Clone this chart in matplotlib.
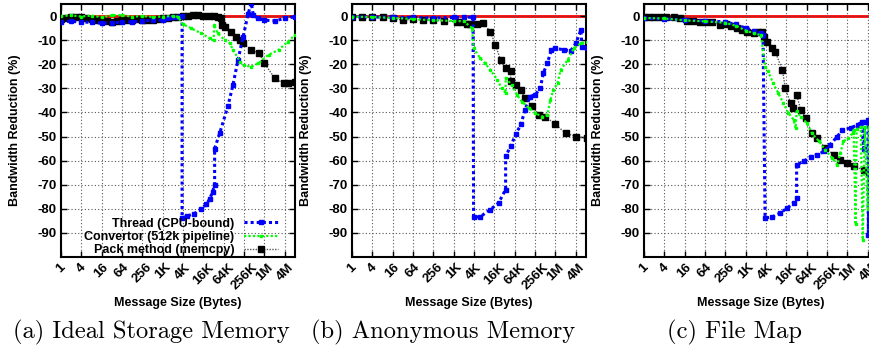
import numpy as np
import matplotlib.pyplot as plt
import matplotlib.transforms as mtransforms

# message sizes are given as log2(bytes); values are bandwidth reduction in %
tick_exp = [0, 2, 4, 6, 8, 10, 12, 14, 16, 18, 20, 22]
tick_labels = ["1", "4", "16", "64", "256", "1K", "4K", "16K", "64K", "256K", "1M", "4M"]
y_ticks = [0, -10, -20, -30, -40, -50, -60, -70, -80, -90]

series_names = ["Thread (CPU-bound)", "Convertor (512k pipeline)", "Pack method (memcpy)"]
captions = ["(a) Ideal Storage Memory", "(b) Anonymous Memory", "(c) File Map"]

# (a) Ideal Storage Memory
thread_a_x = [0, 1, 2, 3, 4, 5, 6, 7, 8, 9, 10, 10.5, 11, 11.5, 11.9, 11.9, 12.4, 13.1, 13.8, 14.3,
              14.6, 14.9, 15.1, 15.1, 15.6, 16.4, 16.9, 17.4, 17.9, 18.4, 18.7, 18.9, 19.4, 20, 21, 22, 23]
thread_a_y = [-2.3, -2.2, -2.5, -2.6, -3.0, -2.8, -2.5, -2.4, -2.0, -1.8, -1.7, -1.0, -0.5, -0.2, 0, -83.8,
              -83, -82, -80, -78, -76, -73, -70, -55, -48.6, -37.5, -28.6, -18.2, -8.6, 1, 5.5, 0.4, -1,
              -1.7, -2, -1, -0.3]
conv_a_x = [0, 1, 2, 3, 4, 5, 6, 7, 8, 9, 10, 11, 11.5, 11.95, 12.8, 13.8, 14.6, 15.0, 15.05, 15.4, 16.1,
            16.6, 16.9, 17.6, 18.0, 18.7, 19.4, 20.4, 21.4, 22.3, 23]
conv_a_y = [0, 0.3, -0.2, 0.2, -0.5, 0.3, 0.4, -0.3, 0, -0.4, -0.2, 0, -0.3, -3.3, -5.1, -7.2, -9.2, -10,
            -3.7, -7.2, -10, -11.3, -14, -18.9, -20.5, -21, -19.6, -16.1, -14, -10.6, -7.9]
pack_a_x = [0, 0.5, 1, 1.5, 2, 2.5, 3, 3.5, 4, 4.5, 5, 5.5, 6, 6.5, 7, 7.5, 8, 8.5, 9, 9.5, 10, 10.5,
            11, 11.5, 12, 12.5, 13, 13.5, 14, 14.5, 15, 15.4, 15.7, 15.8, 16.1, 16.7, 17.2, 17.6, 17.9,
            18.7, 19.5, 20.0, 21.0, 21.9, 22.3, 23]
pack_a_y = [-1.4, -1.0, -0.6, -0.3, -0.5, -0.8, -1.2, -1.6, -1.8, -2.0, -2.3, -2.0, -1.8, -1.6, -1.5,
            -1.4, -1.6, -1.8, -1.5, -1.2, -1.0, -0.8, -0.5, -0.3, 0, 0.2, 0.4, 0.3, 0.2, 0, 0, -0.2, -1,
            -3.7, -4.4, -6.5, -8.6, -10, -11.3, -14, -15.5, -19.6, -25.8, -27.9, -27.9, -27.2]

# (b) Anonymous Memory
thread_b_x = [0, 2, 4, 6, 8, 10, 11, 11.9, 11.95, 12.6, 13.6, 14.4, 15.1, 15.1, 15.6, 16.1, 16.6, 17.0,
              17.5, 18.0, 18.5, 18.8, 19.2, 19.6, 20.0, 20.8, 21.5, 22.0, 22.5, 22.6, 23.1]
thread_b_y = [-0.3, -0.4, -0.5, -0.6, -0.8, -0.6, -0.5, -0.5, -83.5, -83.3, -80.3, -77.6, -72, -58.2,
              -54, -49, -45, -39, -33.4, -32.7, -30, -23.7, -19.6, -14, -13.4, -14, -14.4, -11.3, -5.8,
              -12.7, -13.4]
conv_b_x = [0, 2, 4, 6, 8, 10, 11, 11.8, 11.95, 12.6, 13.1, 13.6, 14.3, 14.7, 15.1, 15.1, 15.7, 16.2,
            16.7, 17.4, 18.0, 18.7, 19.2, 19.5, 19.8, 20.2, 20.5, 21.2, 21.8, 22.5, 23.1]
conv_b_y = [-0.3, -0.4, -0.8, -1.2, -1.8, -2.0, -2.2, -5, -13.4, -17.5, -19.6, -22.4, -26.5, -30, -32,
            -25.7, -28.6, -32.7, -35.5, -38.2, -40.3, -41.7, -41, -34.8, -30.6, -27.9, -22.4, -18.2,
            -13.4, -11.3, -10.8]
pack_b_x = [0, 1, 2, 3, 4, 5, 6, 7, 8, 9, 10.3, 10.8, 11.3, 11.6, 12.3, 12.9, 13.6, 14.1, 14.6, 15.1,
            15.6, 15.6, 16.1, 16.6, 17.0, 17.7, 18.4, 19.0, 20.0, 21.0, 22.0, 23.1]
pack_b_y = [-0.6, -0.4, -0.3, -0.6, -1, -1.7, -1.4, -1.7, -1.7, -2, -2.4, -2.3, -3.1, -3.3, -3.3, -2.8,
            -6.5, -12, -18.2, -21.7, -23, -27, -28.6, -30.6, -34, -37.5, -41, -41.7, -45, -48.6, -50,
            -50.6]

# (c) File Map
thread_c_x = [0, 2, 4, 6, 8, 9, 10, 10.8, 11.5, 11.7, 11.9, 12.6, 13.4, 14.1, 14.7, 15.0, 15.0, 15.7,
              16.4, 17.0, 17.7, 18.3, 19.0, 19.5, 20.3, 21.0, 21.4, 21.6, 21.7, 22.0, 22.05, 22.15, 22.3]
thread_c_y = [-1.0, -1.2, -1.6, -2.0, -2.4, -3.5, -5, -6, -7, -8, -83.8, -83.4, -81.7, -79.6, -77.6,
              -75.5, -61.7, -60.3, -58.3, -57.6, -56.2, -53.4, -50, -47.2, -46.5, -45.1, -44, -55, -44,
              -43, -91, -44, -60]
conv_c_x = [0, 2, 4, 6, 8, 9, 10, 10.8, 11.5, 11.9, 12.2, 12.7, 13.2, 13.7, 14.2, 14.7, 14.9, 15.0,
            15.4, 16.0, 16.5, 17.2, 17.8, 18.5, 19.0, 19.3, 19.6, 20.1, 20.5, 20.6, 20.8, 20.9, 21.3,
            21.5, 21.7, 22.0, 22.1, 22.3]
conv_c_y = [-0.8, -1.0, -1.8, -2.2, -2.8, -4, -6, -7.2, -7.9, -21, -23, -27.9, -32, -36.2, -40.3, -43,
            -46.5, -39.6, -41.7, -44.4, -48.6, -52, -55.5, -58.9, -61.7, -56.9, -52, -50.6, -48.6,
            -47.2, -86.5, -47, -46, -92.8, -46, -80, -46, -70]
pack_c_x = [0, 0.5, 1, 1.6, 2.2, 2.9, 3.5, 4.2, 4.8, 5.5, 6.1, 6.7, 7.5, 8.1, 8.6, 9.1, 9.6, 10.1, 10.8,
            11.2, 11.6, 11.8, 12.1, 12.6, 12.9, 13.6, 13.9, 14.4, 14.6, 15.0, 15.4, 15.9, 16.5, 17.0,
            17.8, 18.7, 19.3, 20.0, 20.6, 21.6, 22.1, 22.3]
pack_c_y = [-0.6, -0.4, -0.3, -0.3, -0.2, -0.3, -1, -1.9, -2.1, -2.3, -2.3, -2.3, -3.7, -3.3, -4.2,
            -5.1, -5.8, -6.5, -6.9, -6.5, -6.5, -8.6, -10.6, -13.4, -14.8, -22.4, -30, -36.2, -38.2,
            -32.7, -38.9, -42.4, -48.6, -50.6, -54.8, -57.6, -59.6, -61, -62.4, -63.8, -65.1, -66.5]

panels = [
    (thread_a_x, thread_a_y, conv_a_x, conv_a_y, pack_a_x, pack_a_y),
    (thread_b_x, thread_b_y, conv_b_x, conv_b_y, pack_b_x, pack_b_y),
    (thread_c_x, thread_c_y, conv_c_x, conv_c_y, pack_c_x, pack_c_y),
]

W, H = 870, 349
fig = plt.figure(figsize=(W / 100, H / 100), dpi=100)
sans = "Liberation Sans"
lefts = [61, 352, 644]
ax_w, ax_top, ax_bot = 234, 4, 257
centers = [178, 469, 761]
cap_centers = [151, 443, 735]
shift = mtransforms.ScaledTranslation(-2 / 100, -2 / 100, fig.dpi_scale_trans)

for i, (tx, ty, cx, cy, px, py) in enumerate(panels):
    ax = fig.add_axes([lefts[i] / W, 1 - ax_bot / H, ax_w / W, (ax_bot - ax_top) / H])
    ax.set_xscale("log", base=2)
    ax.axhline(0, color="red", lw=2, zorder=1)
    ax.plot(2.0 ** np.array(tx), ty, color="blue", lw=2.2, ls=(0, (1, 1)),
            marker="s", ms=2.2, zorder=3, label=series_names[0])
    ax.plot(2.0 ** np.array(cx), cy, color="#00ff00", lw=1.6, ls=(0, (1, 1)),
            marker="s", ms=2, zorder=3, label=series_names[1])
    ax.plot(2.0 ** np.array(px), py, color="#555555", lw=1, ls=(0, (1, 1)),
            marker="s", ms=4, mfc="black", mec="black", zorder=2, label=series_names[2])
    ax.set_xlim(1, 2 ** 23)
    ax.set_ylim(-100, 5)
    ax.set_xticks([2.0 ** e for e in tick_exp])
    ax.set_xticklabels(tick_labels, rotation=45, ha="center", fontweight="bold",
                       fontsize=9.5, family=sans)
    for lab in ax.get_xticklabels():
        lab.set_transform(lab.get_transform() + shift)
    ax.xaxis.set_minor_locator(plt.NullLocator())
    ax.set_yticks(y_ticks)
    ax.set_yticklabels([str(v) for v in y_ticks], fontweight="bold", fontsize=9.5, family=sans)
    ax.tick_params(direction="in", top=True, right=True, length=4, width=1, pad=3)
    ax.grid(True, color="#555555", ls=(0, (1, 2)), lw=0.8)
    for sp in ax.spines.values():
        sp.set_linewidth(1.5)
    ax.set_ylabel("Bandwidth Reduction (%)", fontweight="bold", fontsize=9, family=sans)
    ax.yaxis.set_label_coords(-0.17, 0.5)
    fig.text(centers[i] / W, 1 - 303 / H, "Message Size (Bytes)", ha="center", va="center",
             fontweight="bold", fontsize=9, family=sans)
    fig.text(cap_centers[i] / W, 1 - 332 / H, captions[i], ha="center", va="center",
             fontsize=17.7, family="cmr10")
    if i == 0:
        ax.legend(loc="lower right", bbox_to_anchor=(0.955, -0.022), frameon=False,
                  markerfirst=False, numpoints=1, handlelength=2.7, labelspacing=0.1,
                  borderpad=0, handletextpad=0.8,
                  prop={"family": sans, "weight": "bold", "size": 9})

fig.savefig("out.png", dpi=100)
